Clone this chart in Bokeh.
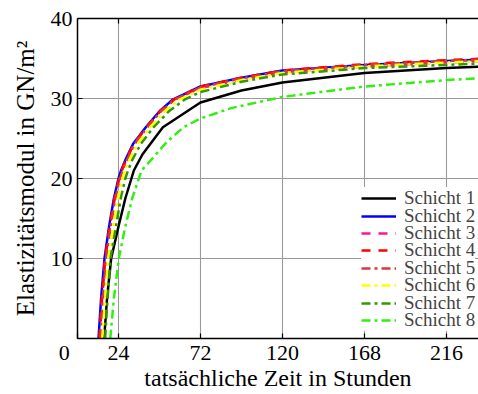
from bokeh.plotting import figure
from bokeh.models import Range1d, FixedTicker, LinearAxis, Legend, LegendItem
from bokeh.embed import file_html
from bokeh.resources import INLINE

# ---------------- data ----------------
x_ticks = [0, 24, 72, 120, 168, 216]
x_grid = [24, 72, 120, 168, 216]
y_ticks = [0, 10, 20, 30, 40]
y_grid = [10, 20, 30]

names = ["Schicht 1", "Schicht 2", "Schicht 3", "Schicht 4",
         "Schicht 5", "Schicht 6", "Schicht 7", "Schicht 8"]

t1 = [15.6, 17.3, 19.7, 24.0, 28.0, 33.0, 38.0, 50.0, 72.0, 96.0, 120.0, 168.0, 216.0, 240.0]
e1 = [0.0, 5.0, 10.0, 14.0, 17.5, 21.0, 23.0, 26.4, 29.5, 31.0, 32.0, 33.2, 33.8, 34.0]

t2 = [12.3, 13.8, 15.8, 18.5, 21.3, 24.0, 25.5, 28.0, 32.5, 40.0, 48.0, 56.0, 72.0, 96.0, 120.0, 168.0, 216.0, 240.0]
e2 = [0.0, 5.0, 10.0, 14.0, 17.5, 20.0, 21.0, 22.3, 24.3, 26.4, 28.4, 29.9, 31.5, 32.6, 33.5, 34.2, 34.7, 34.9]

t3 = [13.0, 14.4, 16.3, 19.0, 21.8, 24.5, 26.0, 28.5, 33.0, 40.5, 48.5, 56.8, 72.0, 96.0, 120.0, 168.0, 216.0, 240.0]
e3 = [0.0, 5.0, 10.0, 14.0, 17.5, 20.0, 21.0, 22.3, 24.3, 26.4, 28.4, 29.9, 31.3, 32.4, 33.3, 34.0, 34.5, 34.7]

t4 = [12.8, 14.2, 16.1, 18.8, 21.6, 24.3, 25.8, 28.3, 32.8, 40.3, 48.3, 56.5, 72.0, 96.0, 120.0, 168.0, 216.0, 240.0]
e4 = [0.0, 5.0, 10.0, 14.0, 17.5, 20.0, 21.0, 22.3, 24.3, 26.4, 28.4, 29.9, 31.5, 32.6, 33.5, 34.3, 34.8, 35.0]

t5 = [13.4, 14.8, 16.7, 19.4, 22.2, 24.9, 26.4, 28.9, 33.4, 40.9, 48.9, 57.2, 72.0, 96.0, 120.0, 168.0, 216.0, 240.0]
e5 = [0.0, 5.0, 10.0, 14.0, 17.5, 20.0, 21.0, 22.3, 24.3, 26.4, 28.4, 29.9, 31.4, 32.5, 33.4, 34.2, 34.7, 34.9]

t6 = [14.5, 16.2, 18.0, 21.0, 23.6, 26.3, 27.8, 30.3, 35.0, 42.5, 51.0, 60.0, 72.0, 96.0, 120.0, 168.0, 216.0, 240.0]
e6 = [0.0, 5.0, 10.0, 14.0, 17.5, 20.0, 21.0, 22.3, 24.3, 26.4, 28.4, 29.9, 31.1, 32.3, 33.2, 34.0, 34.5, 34.7]

t7 = [16.2, 17.6, 19.3, 22.5, 25.3, 28.0, 29.6, 32.0, 37.0, 44.5, 53.5, 63.0, 72.0, 96.0, 120.0, 168.0, 216.0, 240.0]
e7 = [0.0, 5.0, 10.0, 14.0, 17.5, 20.0, 21.0, 22.3, 24.3, 26.4, 28.4, 29.9, 30.8, 32.1, 33.0, 33.8, 34.2, 34.4]

t8 = [19.2, 21.3, 24.2, 28.0, 32.0, 37.5, 43.0, 52.0, 62.0, 72.0, 90.0, 120.0, 168.0, 216.0, 240.0]
e8 = [0.0, 5.0, 10.0, 14.0, 17.5, 21.0, 22.3, 24.5, 26.4, 27.5, 28.8, 30.2, 31.5, 32.3, 32.6]

series_t = [t1, t2, t3, t4, t5, t6, t7, t8]
series_e = [e1, e2, e3, e4, e5, e6, e7, e8]

colors = ["#000000", "#0000ff", "#ff1493", "#ff0000",
          "#d43a3a", "#ffff00", "#339900", "#33ee11"]
dashes = ["solid", "solid", "9 8", "9 8",
          "9 4 3 4", "9 4 3 4", "9 4 3 4", "9 4 3 4"]

FONT = "Liberation Serif"

# ---------------- figure ----------------
p = figure(width=478, height=394, output_backend="svg", toolbar_location=None,
           x_range=Range1d(0, 234.8), y_range=Range1d(0, 40),
           min_border_left=77, min_border_right=0, min_border_top=18,
           min_border_bottom=56,
           x_axis_label="tatsächliche Zeit in Stunden",
           y_axis_label="Elastizitätsmodul in GN/m²")
p.outline_line_color = None
p.background_fill_color = "white"

xt = FixedTicker(ticks=x_ticks)
yt = FixedTicker(ticks=y_ticks)

for ax in p.xaxis:
    ax.ticker = xt
    ax.major_label_overrides = {0: "0\u2002\u2002\u2009"}
for ax in p.yaxis:
    ax.ticker = yt
    ax.major_label_overrides = {0: ""}

for ax in list(p.xaxis) + list(p.yaxis):
    ax.axis_line_width = 1.5
    ax.axis_line_color = "black"
    ax.major_tick_in = 5
    ax.major_tick_out = 0
    ax.minor_tick_line_color = None
    ax.major_tick_line_width = 1.2
    ax.major_label_text_font = FONT
    ax.major_label_text_font_size = "22px"
    ax.major_label_text_color = "black"
    ax.major_label_standoff = 5
    ax.axis_label_text_font = FONT
    ax.axis_label_text_font_style = "normal"
    ax.axis_label_text_color = "black"

p.xaxis.major_label_standoff = 1
p.xaxis.axis_label_text_font_size = "24px"
p.xaxis.axis_label_standoff = -3
p.yaxis.axis_label_text_font_size = "25px"
p.yaxis.axis_label_standoff = 9

top = LinearAxis(ticker=FixedTicker(ticks=x_grid), axis_line_width=1.5,
                 major_tick_in=5, major_tick_out=0,
                 minor_tick_line_color=None, major_label_text_font_size="0px",
                 major_tick_line_width=1.2, major_label_standoff=0)
p.add_layout(top, "above")

p.xgrid.ticker = FixedTicker(ticks=x_grid)
p.ygrid.ticker = FixedTicker(ticks=y_grid)
for g in (p.xgrid, p.ygrid):
    g.grid_line_color = "#999999"
    g.grid_line_width = 1.1

renderers = []
for tt, ee, c, d in zip(series_t, series_e, colors, dashes):
    renderers.append(p.line(tt, ee, line_color=c, line_width=2.5, line_dash=d))

# one single-row legend per series, stacked with a tight row pitch
row_pitch = 17.4
bottom_offset = 7
n = len(names)
for i, (name, r) in enumerate(zip(names, renderers)):
    lg = Legend(items=[LegendItem(label=name, renderers=[r])],
                location=(284, bottom_offset + round((n - 1 - i) * row_pitch)),
                label_text_font=FONT, label_text_font_size="19px",
                glyph_width=35, glyph_height=16, label_height=16,
                label_standoff=8, spacing=0, padding=0, margin=0,
                border_line_color=None, background_fill_color="white",
                background_fill_alpha=1.0)
    p.add_layout(lg, "center")

open("out.html", "w").write(file_html(p, INLINE))
